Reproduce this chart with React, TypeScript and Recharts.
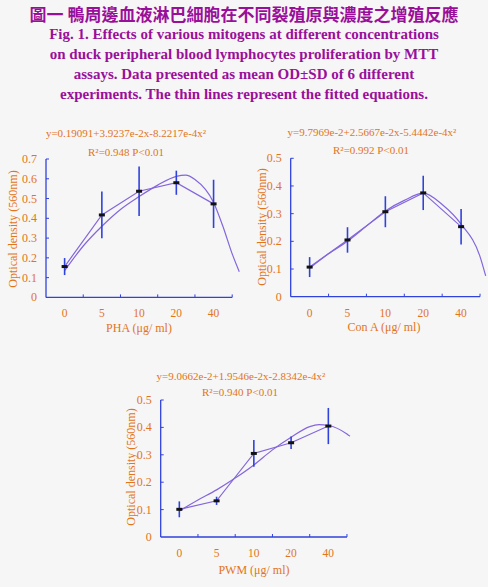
import { LineChart, Line, XAxis, YAxis, ErrorBar, ReferenceLine } from 'recharts';

// Fig. 1 — MTT proliferation of duck PBL under PHA, Con A and PWM.
// Categories sit at 0..4 on a numeric axis so the fitted curves can run past the last dose.

const doses = ['0', '5', '10', '20', '40'];

const phaMean = [0.156, 0.417, 0.537, 0.58, 0.473];
const phaSd = [0.043, 0.118, 0.125, 0.061, 0.122];
const phaFitAt = [0, 0.5, 1, 1.5, 2, 2.5, 3, 3.25, 3.5, 4, 4.25, 4.5, 4.69];
const phaFit = [0.135, 0.26, 0.36, 0.445, 0.51, 0.568, 0.612, 0.618, 0.596, 0.48, 0.36, 0.22, 0.13];

const conMean = [0.107, 0.205, 0.307, 0.375, 0.253];
const conSd = [0.036, 0.046, 0.056, 0.062, 0.064];
const conFitAt = [0, 0.5, 1, 1.5, 2, 2.5, 3, 3.5, 4, 4.5, 4.65];
const conFit = [0.103, 0.155, 0.2, 0.255, 0.31, 0.348, 0.374, 0.333, 0.262, 0.145, 0.075];

const pwmMean = [0.101, 0.132, 0.305, 0.344, 0.405];
const pwmSd = [0.029, 0.015, 0.049, 0.023, 0.066];
const pwmFitAt = [0, 0.5, 1, 1.5, 2, 2.5, 3, 3.5, 3.75, 4, 4.5, 4.58];
const pwmFit = [0.095, 0.135, 0.172, 0.215, 0.263, 0.318, 0.364, 0.403, 0.41, 0.407, 0.376, 0.368];

const ticks07 = [0, 0.1, 0.2, 0.3, 0.4, 0.5, 0.6, 0.7];
const ticks05 = [0, 0.1, 0.2, 0.3, 0.4, 0.5];
const xTicks = [0, 0.5, 1, 1.5, 2, 2.5, 3, 3.5, 4, 4.5];

const SERIF = '"Liberation Serif", "DejaVu Serif", serif';
const ORANGE = '#e2741a';
const BLUE = '#2f42dc';
const PURPLE = '#8466dc';
const TITLE = '#9a0f9a';

const XTick = (props: any) => {
    const { x, y, payload } = props;
    const v = payload.value;
    if (Number.isInteger(v)) {
        return (
            <text x={x} y={y + 20} textAnchor="middle" fill={ORANGE} fontSize={11.5} fontFamily={SERIF}>
                {doses[v]}
            </text>
        );
    }
    return <line x1={x} y1={y} x2={x} y2={y - 3} stroke={BLUE} strokeWidth={1} />;
};

const YTick = (props: any) => {
    const { x, y, payload } = props;
    return (
        <g>
            {payload.value > 0 && <line x1={x} y1={y} x2={x + 3} y2={y} stroke={BLUE} strokeWidth={1} />}
            <text x={x - 9} y={y + 4} textAnchor="end" fill={ORANGE} fontSize={12} fontFamily={SERIF}>
                {payload.value}
            </text>
        </g>
    );
};

const renderDot = (p: any) => (
    <rect key={`d${p.index}`} x={p.cx - 3} y={p.cy - 1.5} width={6} height={3} fill="#111" />
);

type PanelProps = {
    left: number;
    top: number;
    width: number;
    height: number;
    margin: { top: number; right: number; bottom: number; left: number };
    xMax: number;
    yMax: number;
    yTicks: number[];
    mean: number[];
    sd: number[];
    fitAt: number[];
    fit: number[];
};

function Panel({ left, top, width, height, margin, xMax, yMax, yTicks, mean, sd, fitAt, fit }: PanelProps) {
    const meanData = doses.map((_, i) => ({ x: i, y: mean[i], err: sd[i] }));
    const fitData = fitAt.map((x, i) => ({ x, y: fit[i] }));
    // axes get 1px of room each (a 0px axis is not drawn at all)
    const m = { ...margin, left: margin.left - 1, bottom: margin.bottom - 1 };
    return (
        <div style={{ position: 'absolute', left, top }}>
            <LineChart width={width} height={height} margin={m}>
                <XAxis
                    dataKey="x"
                    type="number"
                    domain={[-0.5, xMax]}
                    ticks={xTicks}
                    interval={0}
                    height={1}
                    axisLine={false}
                    tickLine={false}
                    tickSize={0}
                    tickMargin={0}
                    tick={XTick}
                />
                <YAxis
                    type="number"
                    domain={[0, yMax]}
                    ticks={yTicks}
                    interval={0}
                    width={1}
                    axisLine={{ stroke: BLUE, strokeWidth: 1.3 }}
                    tickLine={false}
                    tickSize={0}
                    tickMargin={0}
                    tick={YTick}
                />
                <ReferenceLine
                    segment={[{ x: -0.5, y: 0 }, { x: 4.5, y: 0 }]}
                    stroke={BLUE}
                    strokeWidth={1.3}
                    ifOverflow="visible"
                />
                <Line
                    data={fitData}
                    dataKey="y"
                    type="monotone"
                    stroke={PURPLE}
                    strokeWidth={1.2}
                    dot={false}
                    isAnimationActive={false}
                />
                <Line
                    data={meanData}
                    dataKey="y"
                    type="linear"
                    stroke={PURPLE}
                    strokeWidth={1.2}
                    dot={renderDot}
                    isAnimationActive={false}
                >
                    <ErrorBar dataKey="err" direction="y" width={0} stroke={BLUE} strokeWidth={1.6} />
                </Line>
            </LineChart>
        </div>
    );
}

// centred text helper, cx/cy in page pixels
function Txt({ cx, cy, size, children, rotate }: { cx: number; cy: number; size: number; children: any; rotate?: boolean }) {
    return (
        <div
            style={{
                position: 'absolute',
                left: cx - 110,
                top: cy - 7,
                width: 220,
                height: 14,
                lineHeight: '14px',
                textAlign: 'center',
                whiteSpace: 'nowrap',
                fontFamily: SERIF,
                fontSize: size,
                color: ORANGE,
                transform: rotate ? 'rotate(-90deg)' : undefined,
            }}
        >
            {children}
        </div>
    );
}

export default function App() {
    return (
        <div style={{ position: 'absolute', left: 0, top: 0, width: 488, height: 587, background: '#f6f6f6', overflow: 'hidden' }}>
            <div
                style={{
                    position: 'absolute', left: 0, top: 4, width: 488, lineHeight: '20px', textAlign: 'center',
                    fontFamily: '"Noto Sans CJK TC", sans-serif', fontWeight: 700, fontSize: 17, color: TITLE, whiteSpace: 'nowrap',
                }}
            >
                圖一 鴨周邊血液淋巴細胞在不同裂殖原與濃度之增殖反應
            </div>
            <div
                style={{
                    position: 'absolute', left: 0, top: 24, width: 488, lineHeight: '20px', textAlign: 'center',
                    fontFamily: SERIF, fontWeight: 700, fontSize: 15, color: TITLE, whiteSpace: 'nowrap',
                }}
            >
                Fig. 1. Effects of various mitogens at different concentrations<br />
                on duck peripheral blood lymphocytes proliferation by MTT<br />
                assays. Data presented as mean OD±SD of 6 different<br />
                experiments. The thin lines represent the fitted equations.
            </div>

            <Panel
                left={0} top={115} width={245} height={225}
                margin={{ top: 44, right: 3.5, bottom: 42.6, left: 46 }}
                xMax={4.75} yMax={0.7} yTicks={ticks07}
                mean={phaMean} sd={phaSd} fitAt={phaFitAt} fit={phaFit}
            />
            <Txt cx={126} cy={133} size={11}>y=0.19091+3.9237e-2x-8.2217e-4x²</Txt>
            <Txt cx={126} cy={151.5} size={11}>R²=0.948 P&lt;0.01</Txt>
            <Txt cx={139} cy={328} size={12}>PHA (μg/ ml)</Txt>
            <Txt cx={13} cy={229} size={12} rotate>Optical density (560nm)</Txt>

            <Panel
                left={245} top={115} width={243} height={225}
                margin={{ top: 43.3, right: 0.4, bottom: 43.3, left: 45.7 }}
                xMax={4.7} yMax={0.5} yTicks={ticks05}
                mean={conMean} sd={conSd} fitAt={conFitAt} fit={conFit}
            />
            <Txt cx={372} cy={131.7} size={11}>y=9.7969e-2+2.5667e-2x-5.4442e-4x²</Txt>
            <Txt cx={371} cy={150} size={11}>R²=0.992 P&lt;0.01</Txt>
            <Txt cx={384} cy={327} size={12}>Con A (μg/ ml)</Txt>
            <Txt cx={262} cy={227} size={12} rotate>Optical density (560nm)</Txt>

            <Panel
                left={110} top={360} width={270} height={227}
                margin={{ top: 40, right: 29.3, bottom: 50, left: 50.7 }}
                xMax={4.6} yMax={0.5} yTicks={ticks05}
                mean={pwmMean} sd={pwmSd} fitAt={pwmFitAt} fit={pwmFit}
            />
            <Txt cx={241} cy={376} size={11}>y=9.0662e-2+1.9546e-2x-2.8342e-4x²</Txt>
            <Txt cx={240} cy={392} size={11}>R²=0.940 P&lt;0.01</Txt>
            <Txt cx={254} cy={570} size={12}>PWM (μg/ ml)</Txt>
            <Txt cx={131} cy={467} size={12} rotate>Optical density (560nm)</Txt>
        </div>
    );
}
